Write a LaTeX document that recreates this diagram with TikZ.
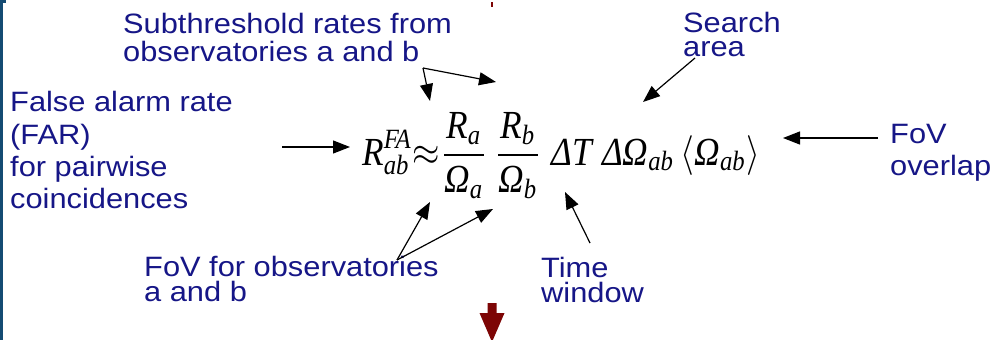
\documentclass[tikz,border=0pt]{standalone}
\usepackage{fontspec}
\usepackage{amsmath}
\usepackage{graphicx}
\setmainfont{Liberation Sans}[FakeStretch=1.1]
\newfontfamily\eqfont{Liberation Serif}
\usetikzlibrary{arrows.meta}
\definecolor{lblblue}{RGB}{22,22,135}
\definecolor{edgeblue}{RGB}{20,75,115}
\definecolor{darkred}{RGB}{125,5,5}
\newcommand\mi[1]{\text{\eqfont\itshape #1}}
\tikzset{
  lbl/.style={font=\fontsize{28}{#1}\selectfont, text=lblblue, inner sep=0pt, align=left, anchor=base west},
  pointer/.style={draw=black, line width=1.2pt, -{Triangle[length=17pt,width=13pt]}},
}
\begin{document}
\begin{tikzpicture}[x=1pt,y=-1pt]
\useasboundingbox (0,0) rectangle (994,340);
\fill[white] (0,0) rectangle (994,340);
% left border
\fill[edgeblue] (0,0) rectangle (3,340);
\fill[edgeblue] (0,0) rectangle (6,2.5);
% tiny red mark at top
\fill[darkred] (490.5,2) rectangle (492.8,7);

% labels (positions give the baseline of the last line)
\node[lbl=28] (sub) at (123,61) {Subthreshold rates from\\observatories a and b};
\node[lbl=24] (search) at (683,56.5) {Search\\area};
\node[lbl=32.3] (far) at (10,208.6) {False alarm rate\\(FAR)\\for pairwise\\coincidences};
\node[lbl=32] (ovl) at (890,175) {FoV\\overlap};
\node[lbl=25] (fov) at (144,301) {FoV for observatories\\a and b};
\node[lbl=25] (time) at (541,302) {Time\\window};

% equation
\node[inner sep=0pt, anchor=base west] (eq) at (362,165)
  {\resizebox{398pt}{53pt}{$\displaystyle
   \mi{R}^{\mi{FA}}_{\mi{ab}}{\approx}
   \frac{\mi{R}_{\mi{a}}}{\mi{Ω}_{\mi{a}}}\,
   \frac{\mi{R}_{\mi{b}}}{\mi{Ω}_{\mi{b}}}\;
   \mi{ΔT}\;\mi{ΔΩ}_{\mi{ab}}\,\langle\mi{Ω}_{\mi{ab}}\rangle$}};

% arrow end points
\coordinate (farS) at (282,147);
\coordinate (farE) at (350,147);
\coordinate (ovlS) at (878,138);
\coordinate (ovlE) at (783,138);
\coordinate (subS) at (423,68);
\coordinate (subA) at (430,101);
\coordinate (subB) at (496,82);
\coordinate (srchS) at (695,58);
\coordinate (srchE) at (643,102);
\coordinate (fovS) at (397,260);
\coordinate (fovA) at (430,202);
\coordinate (fovB) at (493,209);
\coordinate (timeS) at (590,243);
\coordinate (timeE) at (565,192);

\draw[pointer] (farS) -- (farE);
\draw[pointer] (ovlS) -- (ovlE);
\draw[pointer] (subS) -- (subA);
\draw[pointer] (subS) -- (subB);
\draw[pointer] (srchS) -- (srchE);
\draw[pointer] (fovS) -- (fovA);
\draw[pointer] (fovS) -- (fovB);
\draw[pointer] (timeS) -- (timeE);

% dark red down arrow at the bottom
\fill[darkred] (487.5,303) -- (496.5,303) -- (496.5,313) -- (504.5,313)
  -- (492,342) -- (479.5,313) -- (487.5,313) -- cycle;
\end{tikzpicture}
\end{document}
